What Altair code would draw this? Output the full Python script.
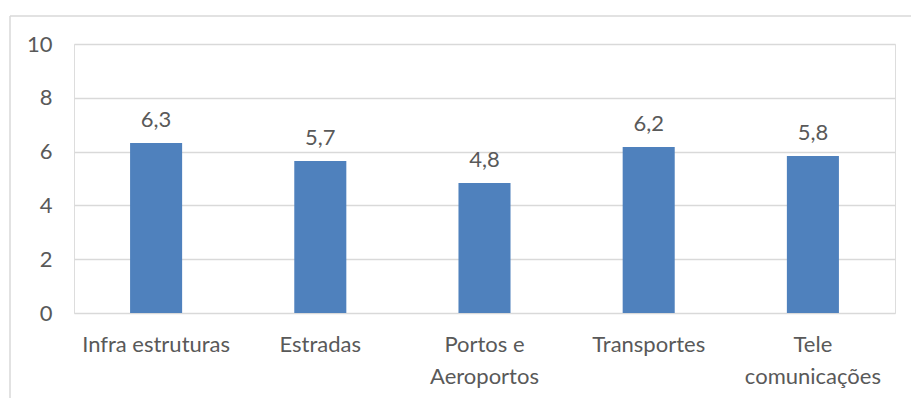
import altair as alt
import pandas as pd

categories = ["Infra estruturas", "Estradas", "Portos e|Aeroportos", "Transportes", "Tele|comunicações"]
values = [6.32, 5.65, 4.83, 6.17, 5.84]
value_labels = ["6,3", "5,7", "4,8", "6,2", "5,8"]
y_ticks = [0, 2, 4, 6, 8, 10]

df = pd.DataFrame({"cat": categories, "val": values, "lab": value_labels})

FONT = "Lato"
FS = 22
TXT = "#595959"
GRID = "#d9d9d9"

x = alt.X("cat:N", sort=categories, title=None,
          scale=alt.Scale(paddingInner=0.683, paddingOuter=0.3415),
          axis=alt.Axis(labelAngle=0, ticks=False, domain=False, labelPadding=31,
                        labelExpr="split(datum.label, '|')", labelLineHeight=32,
                        labelFont=FONT, labelFontSize=FS, labelColor=TXT,
                        labelBaseline="middle"))
y = alt.Y("val:Q", title=None,
          scale=alt.Scale(domain=[0, 10]),
          axis=alt.Axis(values=y_ticks, ticks=False, domain=False, labelPadding=22,
                        gridColor=GRID, gridWidth=1.3,
                        labelFont=FONT, labelFontSize=FS, labelColor=TXT))

bars = alt.Chart(df).mark_bar(color="#4F81BD").encode(x=x, y=y)
text = alt.Chart(df).mark_text(font=FONT, fontSize=FS, color=TXT, baseline="bottom", dy=-11).encode(
    x=alt.X("cat:N", sort=categories), y="val:Q", text="lab:N")

frame_df = pd.DataFrame({"k": [0]})
top_line = alt.Chart(frame_df).mark_rule(color=GRID, strokeWidth=1.5).encode(
    x=alt.value(-64), x2=alt.value(837), y=alt.value(-28))
left_line = alt.Chart(frame_df).mark_rule(color=GRID, strokeWidth=1.5).encode(
    x=alt.value(-64), y=alt.value(-28), y2=alt.value(360))

chart = alt.layer(bars, text, top_line, left_line).properties(
    width=821, height=269,
    padding={"left": 74, "top": 44, "right": 16, "bottom": 85},
    autosize=alt.AutoSizeParams(type="none"),
).configure_view(stroke=None).configure(background="white")

chart.save("out.html", embed_options={"renderer": "svg", "actions": False})
